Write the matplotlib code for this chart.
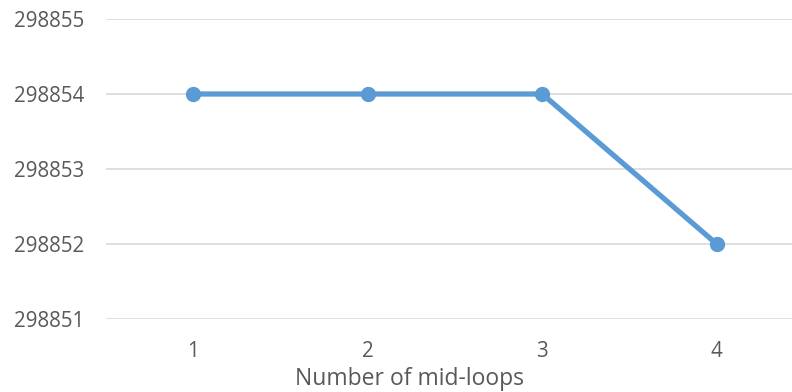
import matplotlib
matplotlib.use('Agg')
import matplotlib.pyplot as plt

loops = [1, 2, 3, 4]
cost = [298854, 298854, 298854, 298852]
y_ticks = [298851, 298852, 298853, 298854, 298855]

text_color = '#595959'
line_color = '#5B9BD5'

plt.rcParams['font.family'] = ['Open Sans', 'DejaVu Sans']

fig = plt.figure(figsize=(7.92, 3.92), dpi=100)
ax = fig.add_axes([106 / 792, 73 / 392, 698 / 792, 300 / 392])

pos = list(range(len(loops)))
ax.plot(pos, cost, color=line_color, lw=3.8, marker='o', ms=10,
        solid_capstyle='round', zorder=3, clip_on=False)

ax.set_xlim(-0.5, len(loops) - 0.5)
ax.set_ylim(y_ticks[0], y_ticks[-1])
ax.set_yticks(y_ticks)
ax.set_yticklabels([str(v) for v in y_ticks])
ax.set_xticks(pos)
ax.set_xticklabels([str(v) for v in loops])

ax.grid(axis='y', color='#D9D9D9', lw=1.2)
ax.set_axisbelow(True)
for s in ax.spines.values():
    s.set_visible(False)
ax.tick_params(length=0, labelsize=14.8, colors=text_color)
ax.tick_params(axis='y', pad=16)
ax.tick_params(axis='x', pad=16)

fig.text(410 / 792, 1 - 379 / 392, 'Number of mid-loops', ha='center', va='center',
         fontsize=16.5, color=text_color)

fig.savefig('out.png', dpi=100)
